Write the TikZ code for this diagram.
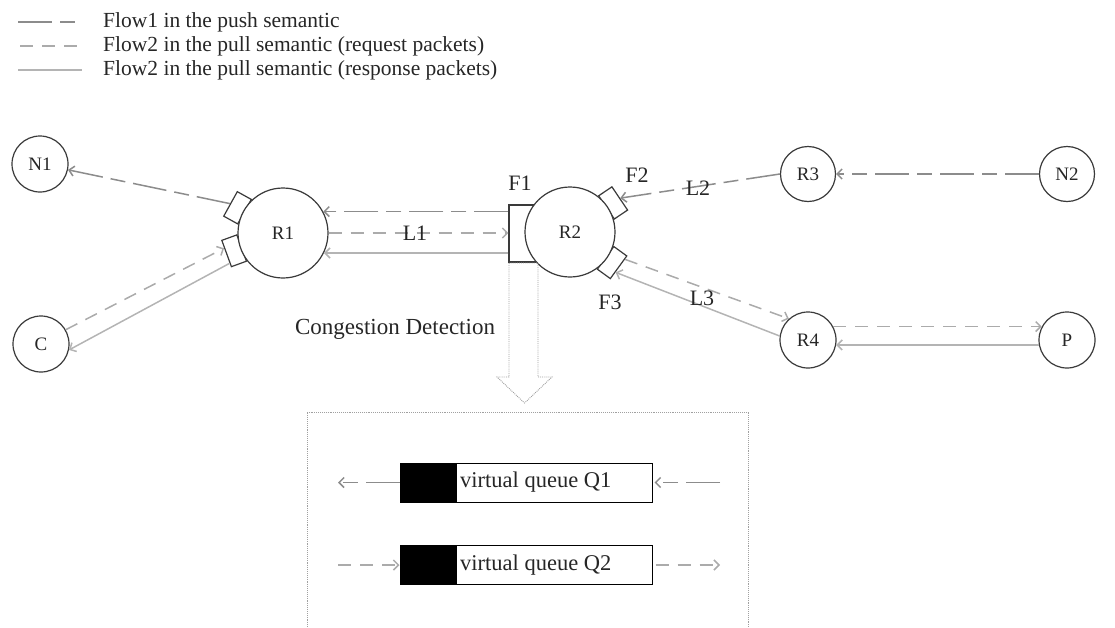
\documentclass[tikz,border=0pt]{standalone}
\usepackage{fontspec}
\setmainfont{Liberation Serif}
\usetikzlibrary{arrows.meta,calc}
\definecolor{cline}{HTML}{3A3A3A}
\definecolor{ctext}{HTML}{262626}
\definecolor{cpush}{HTML}{8C8C8C}
\definecolor{creq}{HTML}{ABABAB}
\definecolor{cresp}{HTML}{B4B4B4}
\definecolor{cdot}{HTML}{A0A0A0}
\begin{document}
\begin{tikzpicture}[x=1pt,y=-1pt,
  rnode/.style={circle,draw=cline,line width=1.2pt,fill=white,inner sep=0pt,text=ctext,font=\fontsize{19}{22}\selectfont},
  port/.style={rectangle,draw=cline,line width=1.2pt,fill=white,minimum width=16pt,minimum height=28pt,inner sep=0pt},
  tip/.style={-{Straight Barb[length=5pt,width=10pt]}},
  flowpush/.style={draw=cpush,line width=1.5pt,dash pattern=on 34pt off 8pt on 15pt off 8pt},
  flowreq/.style={draw=creq,line width=1.5pt,dash pattern=on 13pt off 9pt},
  flowresp/.style={draw=cresp,line width=1.5pt},
  lbl/.style={font=\fontsize{22}{26}\selectfont,text=ctext,inner sep=0pt},
  leg/.style={font=\fontsize{21.5}{24}\selectfont,text=ctext,inner sep=0pt,anchor=west},
  qtext/.style={font=\fontsize{22.5}{26}\selectfont,text=ctext,inner sep=0pt,anchor=west},
  queue/.style={rectangle,draw=black,line width=1pt,fill=white,minimum width=252pt,minimum height=39pt,inner sep=0pt},
]
\useasboundingbox (0,0) rectangle (1115,627);

% legend
\draw[flowpush] (18,22) -- (82,22);
\draw[flowreq] (20,46) -- (82,46);
\draw[flowresp] (18,70) -- (82,70);
\node[leg] (lg1) at (103,22) {Flow1 in the push semantic};
\node[leg] (lg2) at (103,46) {Flow2 in the pull semantic (request packets)};
\node[leg] (lg3) at (103,70) {Flow2 in the pull semantic (response packets)};

% circle centres
\coordinate (r1c) at (283,233);
\coordinate (r2c) at (570,232);

% ports
\node[port,rotate=151] (b1) at ($(r1c)+(151:52pt)$) {};
\node[port,rotate=200] (b2) at ($(r1c)+(200:52pt)$) {};
\node[port,rotate=34] (b3) at ($(r2c)+(34:52pt)$) {};
\node[port,rotate=-36] (b4) at ($(r2c)+(-36:52pt)$) {};
\node[rectangle,draw=cline,line width=1.2pt,fill=white,minimum width=36pt,minimum height=57pt,inner sep=0pt] (f1) at (527,233.5) {};

% nodes
\node[rnode,minimum size=56pt] (N1) at (40,164) {N1};
\node[rnode,minimum size=56pt] (C) at (41,344) {C};
\node[rnode,minimum size=90pt] (R1) at (r1c) {R1};
\node[rnode,minimum size=90pt] (R2) at (r2c) {R2};
\node[rnode,minimum size=55pt] (R3) at (808,174) {R3};
\node[rnode,minimum size=55pt] (N2) at (1067,174) {N2};
\node[rnode,minimum size=56pt] (R4) at (808,340) {R4};
\node[rnode,minimum size=56pt] (P) at (1067,340) {P};

% connectors
\draw[flowpush,tip] (b1.east) -- (N1);
\draw[flowreq,tip] (C.30) -- ($(b2.south east)!0.3!(b2.north east)$);
\draw[flowresp,tip] ($(b2.south east)!0.85!(b2.north east)$) -- (C.-12);

\draw[flowpush,tip] (R1.28 -| f1.west) -- (R1.28);
\draw[flowreq,tip] (R1.east) -- (R1.east -| f1.west);
\draw[flowresp,tip] (R1.-26 -| f1.west) -- (R1.-26);

\draw[flowpush,tip] (N2.west) -- (R3.east);
\draw[flowpush,tip] (R3.west) -- (b3.east);

\draw[flowreq,tip] ($(b4.north east)!0.15!(b4.south east)$) -- (R4.132);
\draw[flowresp,tip] (R4.172) -- ($(b4.east)!0.4!(b4.south east)$);

\draw[flowreq,tip] (R4.28) -- (P.152);
\draw[flowresp,tip] (P.190) -- (R4.-10);

% labels
\node[lbl] (lF1) at (520,183) {F1};
\node[lbl] (lF2) at (637,175) {F2};
\node[lbl] (lF3) at (610,302) {F3};
\node[lbl] (lL1) at (415,233) {L1};
\node[lbl] (lL2) at (698,188) {L2};
\node[lbl] (lL3) at (702,298) {L3};
\node[lbl,font=\fontsize{23}{26}\selectfont] (cd) at (395,329) {Congestion Detection};

% hollow arrow and detection box
\draw[cdot,densely dotted,line width=0.9pt] (509,263) -- (509,377) -- (497,377) -- (524.5,403) -- (552,377) -- (538,377) -- (538,263) -- cycle;
\draw[cdot,densely dotted,line width=0.9pt] (307,627) -- (307,412) -- (748,412) -- (748,627);

% queues
\node[queue] (q1) at (526,482.5) {};
\fill[black] (q1.north west) rectangle ($(q1.south west)+(57,0)$);
\node[qtext] (q1t) at (460,482.5) {virtual queue Q1};
\node[queue] (q2) at (526,565) {};
\fill[black] (q2.north west) rectangle ($(q2.south west)+(57,0)$);
\node[qtext] (q2t) at (460,565) {virtual queue Q2};

\coordinate (q1l) at (338,482.5);
\coordinate (q1r) at (720,482.5);
\coordinate (q2l) at (338,565);
\coordinate (q2r) at (720,565);
\draw[flowpush,tip] (q1.west) -- (q1l);
\draw[flowpush,tip] (q1r) -- ([xshift=2pt]q1.east);
\draw[flowreq,tip] (q2l) -- (q2.west);
\draw[flowreq,tip] ([xshift=3pt]q2.east) -- (q2r);
\end{tikzpicture}
\end{document}
